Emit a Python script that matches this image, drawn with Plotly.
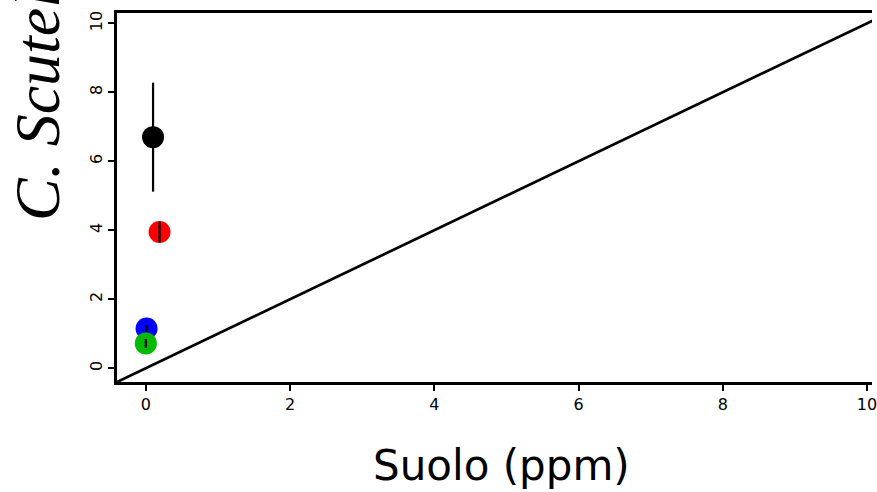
import plotly.graph_objects as go

# data
x_vals = [0.10, 0.19, 0.01, 0.00]
y_vals = [6.70, 3.95, 1.15, 0.72]
y_err = [1.58, 0.30, 0.10, 0.13]
colors = ["#000000", "#ff0000", "#0000ff", "#00bb00"]
line_x = [-0.4, 10.4]
line_y = [-0.4, 10.4]
x_ticks = [0, 2, 4, 6, 8, 10]
y_ticks = [0, 2, 4, 6, 8, 10]

fig = go.Figure()
fig.add_trace(go.Scatter(x=line_x, y=line_y, mode="lines",
                         line=dict(color="black", width=2.7), showlegend=False))
fig.add_trace(go.Scatter(x=x_vals, y=y_vals, mode="markers",
                         marker=dict(color=colors, size=22, line=dict(width=0)),
                         showlegend=False))
fig.add_trace(go.Scatter(x=x_vals, y=y_vals, mode="markers",
                         marker=dict(color="rgba(0,0,0,0)", size=1),
                         error_y=dict(type="data", array=y_err, color="black",
                                      thickness=2.2, width=0),
                         showlegend=False))

fig.update_layout(
    width=877, height=492,
    margin=dict(l=117, r=0, t=13, b=110),
    plot_bgcolor="white", paper_bgcolor="white",
    font=dict(family="DejaVu Sans", color="black"),
    xaxis=dict(range=[-0.4, 10.07], tickvals=x_ticks, showgrid=False, zeroline=False,
               showline=True, linecolor="black", linewidth=3, mirror=True,
               ticks="outside", ticklen=6, tickwidth=2, tickcolor="black",
               ticklabeloverflow="allow",
               tickfont=dict(size=16, family="DejaVu Sans", color="black")),
    yaxis=dict(range=[-0.4, 10.3], tickvals=y_ticks, showgrid=False, zeroline=False,
               showline=True, linecolor="black", linewidth=3, mirror=False,
               ticks="outside", ticklen=6, tickwidth=2, tickcolor="black", tickangle=-90,
               tickfont=dict(size=16, family="DejaVu Sans", color="black")),
    annotations=[
        dict(text="<i>C. Scutellaria (ppm)</i>", xref="paper", yref="paper",
             x=-0.105, y=0.43, xanchor="center", yanchor="bottom",
             textangle=-90, showarrow=False,
             font=dict(size=64, family="Liberation Serif", color="black")),
        dict(text="Suolo (ppm)", xref="paper", yref="paper",
             x=0.509, y=-0.225, xanchor="center", yanchor="middle",
             showarrow=False,
             font=dict(size=42, family="DejaVu Sans", color="black")),
    ],
)
fig.write_html("out.html", config={"displayModeBar": False},
               post_script="document.body.style.margin='0px';document.body.style.overflow='hidden';")
